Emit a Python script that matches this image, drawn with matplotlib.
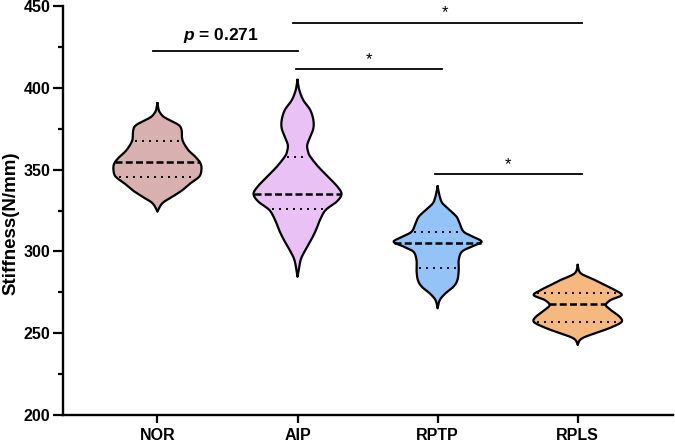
import numpy as np
import matplotlib
matplotlib.use('Agg')
import matplotlib.pyplot as plt
from matplotlib.ticker import MultipleLocator

plt.rcParams['font.family'] = ['Liberation Sans', 'DejaVu Sans']
plt.rcParams['mathtext.fontset'] = 'custom'
plt.rcParams['mathtext.it'] = 'Liberation Sans:italic:bold'
plt.rcParams['mathtext.rm'] = 'Liberation Sans:bold'

groups = ['NOR', 'AIP', 'RPTP', 'RPLS']
colors = ['#d9b0b0', '#eac1f5', '#94c3f7', '#f5b97f']

# violin outlines: stiffness level and relative half width
nor_v = [390.5, 386.4, 384.4, 382.3, 380.3, 377.3, 374.2, 368.0, 362.0, 357.9, 353.8, 349.8, 345.7, 341.6, 337.5, 333.4, 329.4, 324.3]
nor_w = [0, .03, .07, .14, .27, .48, .55, .57, .70, .86, .98, 1.0, .95, .75, .57, .34, .11, 0]

aip_v = [404.8, 398.7, 392.5, 386.4, 380.3, 375.2, 370.1, 365.0, 360.9, 357.9, 351.8, 345.7, 339.5, 335.0, 330.4, 325.3, 319.2, 313.1, 307.0, 300.9, 294.7, 284.5]
aip_w = [0, .04, .13, .29, .36, .36, .29, .22, .24, .29, .47, .69, .91, 1.0, .89, .64, .51, .42, .31, .18, .07, 0]

rptp_v = [339.6, 333.4, 329.4, 325.3, 321.2, 317.2, 312.1, 309.0, 305.9, 302.9, 299.8, 294.7, 288.6, 282.5, 278.4, 274.4, 270.3, 265.2]
rptp_w = [0, .05, .11, .27, .43, .5, .59, .8, 1.0, .77, .55, .48, .48, .45, .36, .18, .05, 0]

rpls_v = [291.7, 286.6, 282.5, 279.5, 276.4, 273.3, 270.3, 267.2, 264.2, 260.1, 257.0, 254.0, 250.9, 247.9, 245.8, 242.8]
rpls_w = [0, .07, .39, .61, .84, 1.0, .75, .64, .75, .95, 1.0, .8, .5, .18, .05, 0]

# lower quartile, median, upper quartile
quartiles = [
    [345.3, 354.8, 367.7],
    [325.7, 334.9, 357.5],
    [289.6, 305.3, 312.1],
    [257.0, 267.8, 274.3],
]

profiles = [(nor_v, nor_w), (aip_v, aip_w), (rptp_v, rptp_w), (rpls_v, rpls_w)]

# significance brackets: (from, to, level, label)
brackets = [
    (-0.03, 1.0, 422.5, 'p'),
    (0.97, 3.03, 439.8, '*'),
    (0.99, 2.03, 411.3, '*'),
    (1.98, 3.03, 347.1, '*'),
]
p_text = '$p$ = 0.271'

half_width = 0.314


def smooth(v, w, n=10):
    # catmull-rom through the read points, just to round the outline
    pts = np.column_stack([v, w])
    pts = np.vstack([pts[0], pts, pts[-1]])
    out = []
    for i in range(1, len(pts) - 2):
        p0, p1, p2, p3 = pts[i - 1], pts[i], pts[i + 1], pts[i + 2]
        for t in np.linspace(0, 1, n, endpoint=False):
            t2, t3 = t * t, t * t * t
            out.append(0.5 * ((2 * p1) + (-p0 + p2) * t + (2 * p0 - 5 * p1 + 4 * p2 - p3) * t2
                              + (-p0 + 3 * p1 - 3 * p2 + p3) * t3))
    out.append(pts[-2])
    out = np.array(out)
    return out[:, 0], np.clip(out[:, 1], 0, None)


fig = plt.figure(figsize=(6.75, 4.41), dpi=100)
ax = fig.add_axes([63 / 675, 26 / 441, 610 / 675, 409 / 441])

for i, (v, w) in enumerate(profiles):
    ys, ws = smooth(v, w)
    ws = ws * half_width
    ax.fill_betweenx(ys, i - ws, i + ws, facecolor=colors[i], edgecolor='none', zorder=2)
    order = np.argsort(ys)
    for k, q in enumerate(quartiles[i]):
        wq = np.interp(q, ys[order], ws[order])
        if k == 1:
            ax.plot([i - wq, i + wq], [q, q], color='black', lw=1.8,
                    linestyle=(0, (2.8, 1.3)), zorder=3, solid_capstyle='butt')
        else:
            ax.plot([i - wq + 0.02, i + wq - 0.02], [q, q], color='black', lw=1.4,
                    linestyle=(0, (1, 2.6)), zorder=3)
    ax.plot(np.concatenate([i - ws, (i + ws)[::-1]]), np.concatenate([ys, ys[::-1]]),
            color='black', lw=1.6, zorder=4, solid_joinstyle='round')

for x0, x1, lvl, lab in brackets:
    ax.plot([x0, x1], [lvl, lvl], color='black', lw=1.3, clip_on=False)
    xm = (x0 + x1) / 2
    if lab == 'p':
        ax.text(xm - 0.03, lvl + 3.5, p_text, ha='center', va='bottom',
                fontsize=12.5, fontweight='bold')
    else:
        ax.text(xm + (0.05 if x1 - x0 > 2 else 0), lvl + 1.5, '*', ha='center', va='bottom', fontsize=12)

ax.set_xlim(-0.674, 3.68)
ax.set_ylim(200, 450)
ax.set_xticks(range(len(groups)))
ax.set_xticklabels(groups, fontsize=11.5, fontweight='bold')
ax.yaxis.set_major_locator(MultipleLocator(50))
ax.yaxis.set_minor_locator(MultipleLocator(25))
for lbl in ax.get_yticklabels():
    lbl.set_fontsize(11.5)
    lbl.set_fontweight('bold')
ax.tick_params(axis='y', which='major', length=7, width=1.6, pad=2)
ax.tick_params(axis='y', which='minor', length=3.6, width=1.6)
ax.tick_params(axis='x', which='major', length=6, width=1.6, pad=3)
ax.set_ylabel('Stiffness(N/mm)', fontsize=13.5, fontweight='bold')
ax.yaxis.set_label_coords(-0.071, 0.47)

for s in ['top', 'right']:
    ax.spines[s].set_visible(False)
for s in ['left', 'bottom']:
    ax.spines[s].set_linewidth(1.7)

fig.savefig('out.png', dpi=100)
